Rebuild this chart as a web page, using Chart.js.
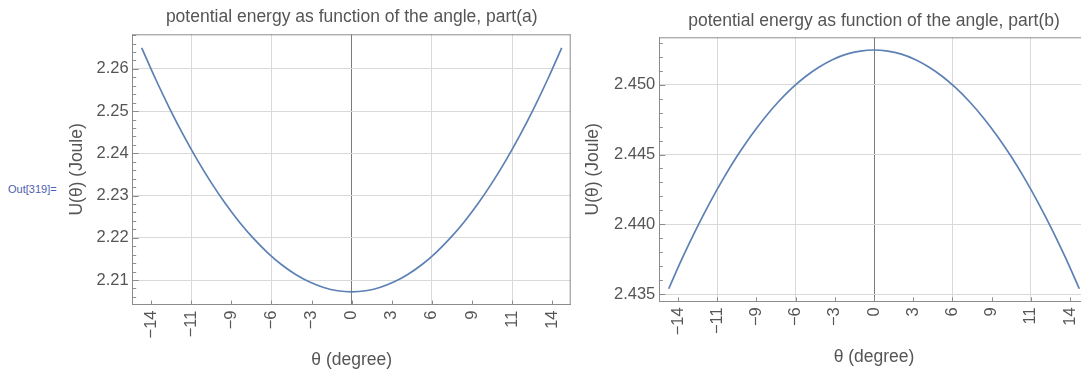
<!DOCTYPE html>
<html>
<head>
<meta charset="utf-8">
<script src="https://cdn.jsdelivr.net/npm/chart.js@4.4.1/dist/chart.umd.min.js"></script>
<style>
  html, body { margin: 0; padding: 0; background: #fff; overflow: hidden; width: 1081px; height: 371px; }
  #wrapA { position: absolute; left: 64px; top: 0; }
  #wrapB { position: absolute; left: 580px; top: 0; }
  #out { position: absolute; left: 8px; top: 183px; font: 11px "Liberation Sans", Arial, sans-serif; color: #5060b0; }
</style>
</head>
<body>
<div id="out">Out[319]=</div>
<div id="wrapA"><canvas id="chartA" width="516" height="371"></canvas></div>
<div id="wrapB"><canvas id="chartB" width="520" height="371"></canvas></div>
<script>
// angle in degrees
const angles = [-15, -14, -13, -12, -11, -10, -9, -8, -7, -6, -5, -4, -3, -2, -1, 0,
  1, 2, 3, 4, 5, 6, 7, 8, 9, 10, 11, 12, 13, 14, 15];

// U(theta) in Joule, part (a)
const energyA = [2.26500, 2.25755, 2.25062, 2.24419, 2.23828, 2.23289, 2.22801, 2.22364,
  2.21979, 2.21645, 2.21362, 2.21131, 2.20951, 2.20823, 2.20746, 2.20720,
  2.20746, 2.20823, 2.20951, 2.21131, 2.21362, 2.21645, 2.21979, 2.22364,
  2.22801, 2.23289, 2.23828, 2.24419, 2.25062, 2.25755, 2.26500];

// U(theta) in Joule, part (b)
const energyB = [2.43538, 2.43759, 2.43964, 2.44154, 2.44329, 2.44489, 2.44633, 2.44762,
  2.44876, 2.44975, 2.45059, 2.45127, 2.45181, 2.45219, 2.45241, 2.45249,
  2.45241, 2.45219, 2.45181, 2.45127, 2.45059, 2.44975, 2.44876, 2.44762,
  2.44633, 2.44489, 2.44329, 2.44154, 2.43964, 2.43759, 2.43538];

// x ticks sit every 0.05 rad, labelled in rounded degrees
const xTickRad = [-0.25, -0.2, -0.15, -0.1, -0.05, 0, 0.05, 0.1, 0.15, 0.2, 0.25];
const xTickLabels = ['\u221214', '\u221211', '\u22129', '\u22126', '\u22123', '0', '3', '6', '9', '11', '14'];

const yTicksA = [2.21, 2.22, 2.23, 2.24, 2.25, 2.26];
const yTicksB = [2.435, 2.440, 2.445, 2.450];

const FONT = '"Liberation Sans", Arial, Helvetica, sans-serif';
const TEXT = '#555555';
const FRAME = '#8c8c8c';
const LINE = 'rgb(94,129,181)';

// top/right frame plus inward ticks (Mathematica style)
const framePlugin = {
  id: 'frame',
  afterDatasetsDraw(chart, args, o) {
    const { ctx, chartArea: a, scales: { x, y } } = chart;
    ctx.save();
    ctx.strokeStyle = FRAME;
    ctx.lineWidth = 1;
    ctx.beginPath();
    ctx.moveTo(a.left, a.top + 0.5);
    ctx.lineTo(a.right, a.top + 0.5);
    ctx.moveTo(a.right - 0.5, a.top);
    ctx.lineTo(a.right - 0.5, a.bottom);
    x.ticks.forEach(t => {
      const px = Math.round(x.getPixelForValue(t.value)) + 0.5;
      ctx.moveTo(px, a.bottom);
      ctx.lineTo(px, a.bottom - 4);
    });
    const i0 = Math.ceil(y.min / o.minorStep - 1e-6);
    const i1 = Math.floor(y.max / o.minorStep + 1e-6);
    for (let i = i0; i <= i1; i++) {
      const py = Math.round(y.getPixelForValue(i * o.minorStep)) + 0.5;
      const len = i % 5 === 0 ? 6 : 3.5;
      ctx.moveTo(a.left, py);
      ctx.lineTo(a.left + len, py);
    }
    ctx.stroke();
    ctx.restore();
  }
};

function makeChart(id, values, cfg) {
  const ctx = document.getElementById(id).getContext('2d');
  return new Chart(ctx, {
    type: 'line',
    data: {
      datasets: [{
        data: angles.map((a, i) => ({ x: a * Math.PI / 180, y: values[i] })),
        borderColor: LINE,
        borderWidth: 1.7,
        pointRadius: 0,
        tension: 0.4,
        fill: false
      }]
    },
    options: {
      responsive: false,
      animation: false,
      layout: { padding: { left: 0, right: cfg.padRight, top: 0, bottom: 0 } },
      plugins: {
        legend: { display: false },
        tooltip: { enabled: false },
        title: {
          display: true,
          text: cfg.title,
          fullSize: false,
          color: TEXT,
          font: { family: FONT, size: 17.5, weight: 'normal' },
          padding: cfg.titlePad
        },
        frame: { minorStep: cfg.minorStep }
      },
      scales: {
        x: {
          type: 'linear',
          min: cfg.xMin,
          max: cfg.xMax,
          afterBuildTicks: s => { s.ticks = xTickRad.map(v => ({ value: v })); },
          afterFit: s => { s.height = cfg.xHeight; },
          ticks: {
            color: TEXT,
            font: { family: FONT, size: 16.5 },
            minRotation: 90,
            maxRotation: 90,
            padding: 6,
            callback: (v, i) => xTickLabels[i]
          },
          grid: {
            drawTicks: false,
            color: c => {
              if (!c.tick) return 'rgba(0,0,0,0)';
              const k = Math.round(c.tick.value / 0.05);
              if (k === 0) return '#7a7a7a';
              return k % 2 === 0 ? '#d9d9d9' : 'rgba(0,0,0,0)';
            }
          },
          border: { color: FRAME },
          title: {
            display: true,
            text: '\u03b8 (degree)',
            color: TEXT,
            font: { family: FONT, size: 17.5 },
            padding: { top: 0, bottom: cfg.xTitlePad }
          }
        },
        y: {
          type: 'linear',
          min: cfg.yMin,
          max: cfg.yMax,
          afterBuildTicks: s => { s.ticks = cfg.yTicks.map(v => ({ value: v })); },
          afterFit: s => { s.width = cfg.yWidth; },
          ticks: {
            color: TEXT,
            font: { family: FONT, size: 16.5 },
            padding: 4,
            callback: v => v.toFixed(cfg.decimals)
          },
          grid: { drawTicks: false, color: '#d9d9d9' },
          border: { color: FRAME },
          title: {
            display: true,
            text: 'U(\u03b8) (Joule)',
            color: TEXT,
            font: { family: FONT, size: 17.5 },
            padding: { top: 3, bottom: 3 }
          }
        }
      }
    },
    plugins: [framePlugin]
  });
}

makeChart('chartA', energyA, {
  title: 'potential energy as function of the angle, part(a)',
  titlePad: { top: 6.2, bottom: 7.1 },
  padRight: 9.3,
  xMin: -0.273, xMax: 0.273,
  yMin: 2.2042, yMax: 2.2682,
  yTicks: yTicksA, decimals: 2, minorStep: 0.002,
  yWidth: 68.7, xHeight: 66.5, xTitlePad: 0.5
});

makeChart('chartB', energyB, {
  title: 'potential energy as function of the angle, part(b)',
  titlePad: { top: 10.2, bottom: 6.1 },
  padRight: 11.3,
  xMin: -0.2738, xMax: 0.2738,
  yMin: 2.43448, yMax: 2.4534,
  yTicks: yTicksB, decimals: 3, minorStep: 0.001,
  yWidth: 79.3, xHeight: 69.7, xTitlePad: 3.2
});
</script>
</body>
</html>
